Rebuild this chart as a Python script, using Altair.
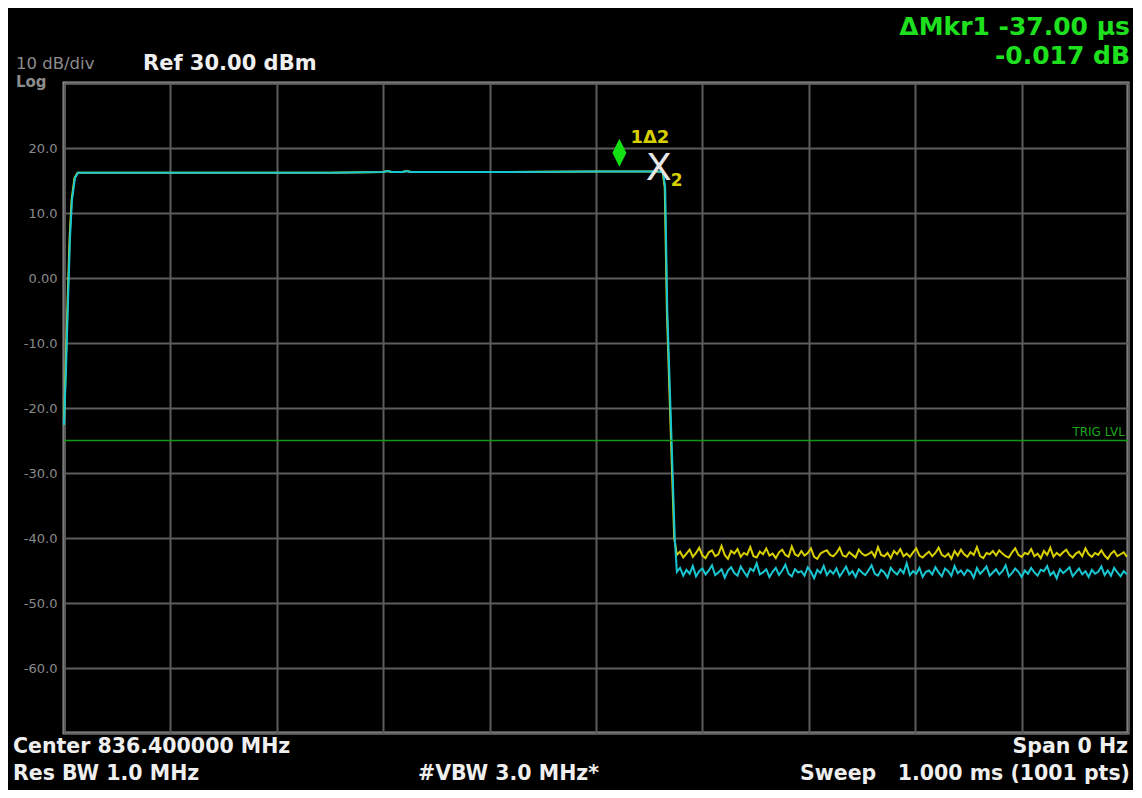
import altair as alt
import pandas as pd

# ---------------- data ----------------
# time in microseconds (sweep 1.000 ms, zero span), amplitude in dBm
rise_db = [-22.6, -14.0, -3.4, 6.0, 12.0, 15.4, 16.2]
cyan_rise_t = [0, 1.9, 3.8, 5.6, 7.5, 10.3, 13.2]
yellow_rise_t = [0, 1.5, 3.4, 5.2, 7.1, 9.9, 12.8]

flat_t = [60, 150, 250, 300, 304, 308, 312, 318, 322, 326, 332, 400, 500, 558]
flat_db = [16.2, 16.2, 16.2, 16.3, 16.45, 16.3, 16.3, 16.3, 16.45, 16.3, 16.3, 16.3, 16.4, 16.4]

fall_db = [16.3, 14.0, -5.0, -20.0, -30.0, -40.0]
cyan_fall_t = [563, 565, 567, 570, 572, 574]
yellow_fall_t = [562.6, 564.6, 566.6, 569.5, 571.5, 573.5]

noise_t = list(range(576, 1001, 3))
yellow_noise = [
    -42.6, -42.1, -43.0, -42.4, -41.8, -42.9, -42.3, -41.5, -42.7, -43.1,
    -42.2, -41.9, -42.8, -42.5, -41.2, -42.6, -43.2, -42.0, -42.4, -41.7,
    -42.9, -42.3, -42.6, -41.4, -42.8, -43.0, -42.1, -42.5, -41.6, -42.7,
    -42.4, -43.1, -42.2, -41.8, -42.6, -42.9, -41.3, -42.5, -42.8, -42.0,
    -42.7, -42.3, -41.6, -42.9, -43.2, -42.4, -42.1, -41.9, -42.6, -42.8,
    -42.3, -41.5, -42.7, -42.9, -42.2, -42.6, -43.0, -41.8, -42.4, -42.7,
    -42.5, -42.1, -42.9, -41.4, -42.6, -42.8, -42.3, -43.1, -42.0, -42.5,
    -41.7, -42.8, -42.4, -42.9, -42.2, -41.6, -42.7, -43.0, -42.5, -42.1,
    -42.8, -42.3, -41.5, -42.6, -42.9, -42.4, -43.2, -42.0, -42.7, -41.8,
    -42.5, -42.9, -42.2, -42.6, -41.4, -42.8, -43.1, -42.3, -42.5, -42.0,
    -42.7, -41.9, -42.4, -42.8, -43.0, -42.2, -41.6, -42.6, -42.9, -42.3,
    -42.5, -41.7, -42.8, -42.4, -43.1, -42.0, -42.6, -41.5, -42.9, -42.3,
    -42.7, -42.2, -41.8, -42.6, -43.0, -42.4, -42.1, -42.8, -41.6, -42.5,
    -42.9, -42.3, -42.6, -41.9, -42.7, -43.2, -42.4, -42.0, -42.8, -42.5,
    -42.2, -42.9,
]
cyan_noise = [
    -45.2, -44.6, -45.8, -44.9, -45.5, -44.3, -45.9, -45.1, -44.7, -45.6,
    -45.0, -44.2, -45.7, -45.3, -44.8, -46.1, -45.0, -44.5, -45.4, -45.8,
    -44.4, -45.2, -45.9, -44.7, -45.1, -43.9, -45.6, -45.3, -44.8, -46.0,
    -45.2, -44.6, -45.7, -45.0, -44.1, -45.5, -45.9, -44.8, -45.3, -45.1,
    -45.8, -44.5, -45.2, -46.2, -44.9, -45.4, -44.3, -45.7, -45.0, -45.5,
    -44.7, -45.9, -45.2, -44.4, -45.6, -45.1, -46.0, -44.8, -45.3, -45.7,
    -45.0, -44.2, -45.5, -45.8, -44.9, -45.3, -46.1, -44.6, -45.2, -45.6,
    -44.8, -45.4, -43.9, -45.7, -45.1, -45.5, -44.6, -46.0, -45.2, -45.0,
    -45.6, -44.5, -45.3, -45.9, -44.7, -45.1, -45.8, -44.3, -45.4, -45.0,
    -45.7, -44.9, -45.2, -46.1, -44.6, -45.5, -45.0, -44.4, -45.8, -45.3,
    -44.8, -45.6, -45.1, -44.2, -45.9, -45.4, -44.7, -45.2, -46.0, -45.0,
    -45.5, -44.6, -45.3, -45.8, -44.9, -45.1, -44.3, -45.7, -45.2, -46.2,
    -44.8, -45.4, -45.0, -44.5, -45.9, -45.3, -44.7, -45.6, -45.1, -46.0,
    -44.9, -45.5, -45.2, -44.4, -45.7, -45.0, -45.8, -44.6, -45.3, -45.9,
    -45.1, -45.6,
]
assert len(noise_t) == len(yellow_noise) == len(cyan_noise)

trig_level = [-25.0]
marker_t = [522, 559]          # marker 1 (delta) and marker 2 (reference)
marker_db = [16.2, 16.4]

y_ticks = list(range(-70, 31, 10))
x_ticks = list(range(0, 1001, 100))

# ---------------- tables ----------------
def trace(rise_t, fall_t, noise):
    t = list(rise_t) + flat_t + list(fall_t) + noise_t
    v = rise_db + flat_db + fall_db + noise
    return pd.DataFrame({"t": t, "db": v})

yellow_df = trace(yellow_rise_t, yellow_fall_t, yellow_noise)
cyan_df = trace(cyan_rise_t, cyan_fall_t, cyan_noise)
trig_df = pd.DataFrame({"db": trig_level, "t": [1000]})
m1_df = pd.DataFrame({"t": marker_t[:1], "db": marker_db[:1]})
m2_df = pd.DataFrame({"t": marker_t[1:], "db": marker_db[1:]})

W, H = 1064, 650
FONT = "DejaVu Sans"

x_enc = alt.X("t:Q", scale=alt.Scale(domain=[0, 1000], nice=False, zero=False),
              axis=alt.Axis(values=x_ticks, labels=False, ticks=False, domain=False,
                            title=None, grid=True, gridColor="#5c5c5c", gridWidth=2))
y_enc = alt.Y("db:Q", scale=alt.Scale(domain=[-70, 30], nice=False, zero=False),
              axis=alt.Axis(values=y_ticks, ticks=False, domain=False, title=None,
                            grid=True, gridColor="#5c5c5c", gridWidth=2,
                            labelExpr="datum.value == 0 ? '0.00' : (datum.value == 30 || datum.value == -70) ? '' : datum.value + '.0'",
                            labelColor="#8a8a8a", labelFont=FONT, labelFontSize=13,
                            labelPadding=7))

yellow = alt.Chart(yellow_df).mark_line(color="#d8cf00", strokeWidth=2).encode(x=x_enc, y=y_enc)
cyan = alt.Chart(cyan_df).mark_line(color="#18c6d2", strokeWidth=2).encode(x=x_enc, y=y_enc)

trig = alt.Chart(trig_df).mark_rule(color="#159a15", strokeWidth=1.5).encode(y=y_enc)
trig_txt = alt.Chart(trig_df).mark_text(text="TRIG LVL", align="right", baseline="middle",
                                        dx=-3, dy=-9, font=FONT, fontSize=12,
                                        color="#1aa51a").encode(x=x_enc, y=y_enc)

diamond = alt.Chart(m1_df).mark_point(
    shape="M0,-2.43L0.5,-1.43L0,-0.43L-0.5,-1.43Z", size=784, filled=True,
    opacity=1, color="#12e012", strokeWidth=0).encode(x=x_enc, y=y_enc)
m1_lbl = alt.Chart(m1_df).mark_text(text="1\u03942", align="left", baseline="middle",
                                    dx=11, dy=-35, font=FONT, fontSize=18,
                                    fontWeight="bold", color="#d8cf00").encode(x=x_enc, y=y_enc)
m2_x = alt.Chart(m2_df).mark_text(text="X", align="center", baseline="middle",
                                  dy=-2, font=FONT, fontSize=38,
                                  color="#e6e6e6").encode(x=x_enc, y=y_enc)
m2_lbl = alt.Chart(m2_df).mark_text(text="2", align="center", baseline="middle",
                                    dx=18, dy=10, font=FONT, fontSize=17,
                                    fontWeight="bold", color="#d8cf00").encode(x=x_enc, y=y_enc)

def label(text, x, y, align="left", size=20.5, color="#efefef", weight="bold"):
    return alt.Chart(pd.DataFrame({"a": [0]})).mark_text(
        text=text, align=align, baseline="middle", font=FONT, fontSize=size,
        fontWeight=weight, color=color).encode(x=alt.value(x), y=alt.value(y))

NB = "\u00a0"
texts = [
    label("10 dB/div", -48, -19.5, size=16.5, color="#8c8c8c", weight="normal"),
    label("Log", -48, -1, size=15, color="#8c8c8c"),
    label("Ref 30.00 dBm", 79, -19.5, size=21),
    label("\u0394Mkr1 -37.00 \u00b5s", 1066, -56, align="right", size=25, color="#1ee01e"),
    label("-0.017 dB", 1066, -27, align="right", size=25, color="#1ee01e"),
    label("Center 836.400000 MHz", -51, 664),
    label("Res BW 1.0 MHz", -51, 690.5),
    label("#VBW 3.0 MHz*", 354, 690.5),
    label("Span 0 Hz", 1064, 664, align="right"),
    label("Sweep" + NB + NB + NB + "1.000 ms (1001 pts)", 1066, 690.5, align="right"),
]

chart = alt.layer(yellow, cyan, trig, trig_txt, diamond, m1_lbl, m2_x, m2_lbl, *texts).properties(
    width=W, height=H,
    background="black",
    padding={"left": 56, "top": 75, "right": 5, "bottom": 57},
    autosize=alt.AutoSizeParams(type="none"),
).configure_view(stroke="#9a9a9a", strokeWidth=3)

chart.save("out.html", embed_options={"renderer": "svg", "actions": False})
